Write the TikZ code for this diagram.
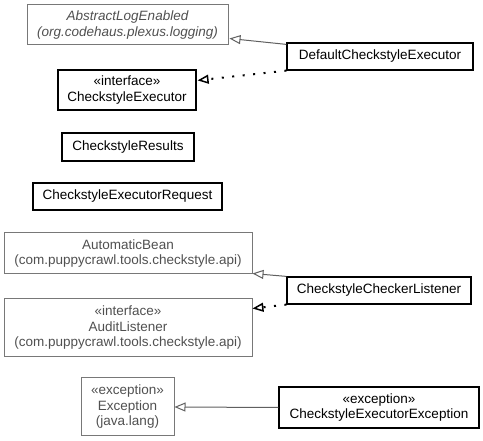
\documentclass[tikz,border=0pt]{standalone}
\usepackage{fontspec}
\setmainfont{Liberation Sans}
\usetikzlibrary{arrows.meta,calc}
\definecolor{gborder}{RGB}{120,120,120}
\definecolor{gtext}{RGB}{80,80,80}
\tikzset{
  cls/.style={draw=black, line width=1.2pt, inner sep=0pt, align=center, text=black,
    font=\fontsize{13.5}{15.5}\selectfont},
  ext/.style={draw=gborder, line width=1pt, inner sep=0pt, align=center, text=gtext,
    font=\fontsize{13.5}{15.5}\selectfont},
  gen/.style={draw=gborder!80!black, line width=1pt, -{Triangle[open,length=11pt,width=9pt,line width=1pt]}},
  real/.style={draw=black, line width=2pt, dash pattern=on 2pt off 8.5pt,
    -{Triangle[open,length=11pt,width=9pt,line width=1.5pt]}}
}
\begin{document}
\begin{tikzpicture}[x=1pt,y=-1pt]
\useasboundingbox (0,0) rectangle (483,441);
\node[ext, minimum width=201pt, minimum height=40pt] (ale) at (127.5,25) {\itshape AbstractLogEnabled\\\itshape (org.codehaus.plexus.logging)};
\node[cls, minimum width=186pt, minimum height=27pt] (def) at (380,56.5) {DefaultCheckstyleExecutor};
\node[cls, minimum width=138pt, minimum height=40pt] (cse) at (127,90) {«interface»\\CheckstyleExecutor};
\node[cls, minimum width=132pt, minimum height=28pt] (res) at (128,147) {CheckstyleResults};
\node[cls, minimum width=189pt, minimum height=27pt] (req) at (127.5,196.5) {CheckstyleExecutorRequest};
\node[ext, minimum width=248pt, minimum height=41pt] (ab) at (128,253.5) {AutomaticBean\\(com.puppycrawl.tools.checkstyle.api)};
\node[cls, minimum width=184pt, minimum height=27pt] (ccl) at (379,290.5) {CheckstyleCheckerListener};
\node[ext, minimum width=248pt, minimum height=58pt] (al) at (128,328) {«interface»\\AuditListener\\(com.puppycrawl.tools.checkstyle.api)};
\node[ext, minimum width=93pt, minimum height=58pt] (exc) at (127.5,407) {«exception»\\Exception\\(java.lang)};
\node[cls, minimum width=200pt, minimum height=41pt] (cee) at (379,407.5) {«exception»\\CheckstyleExecutorException};

\draw[gen] ($(def.north west)+(0,2)$) -- ($(ale.south east)+(1,-7)$);
\draw[real] (def.south west) -- ($(cse.north east)+(1,11)$);
\draw[gen] (ccl.north west) -- ($(ab.south east)+(0,-1)$);
\draw[real] (ccl.south west) -- ($(al.north east)+(0,10)$);
\draw[gen] (cee.west) -- (exc.east);
\end{tikzpicture}
\end{document}
